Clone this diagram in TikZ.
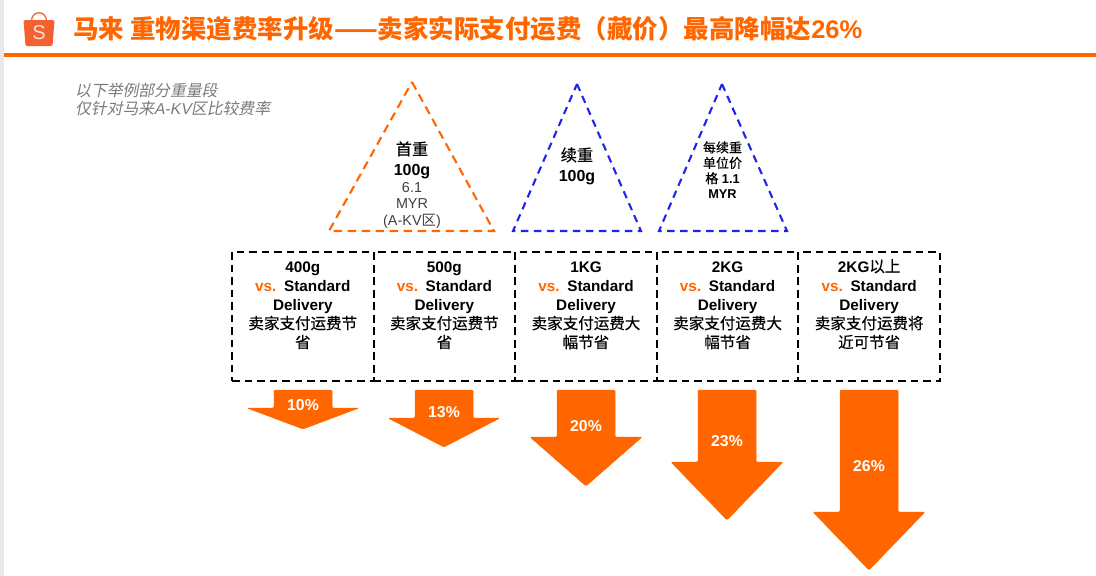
\documentclass[tikz,border=0pt]{standalone}
\usepackage{fontspec}
\setmainfont{Liberation Sans}
\newfontfamily\cjk{Noto Sans CJK SC}
\newfontfamily\cjkplain[FakeBold=0.35,Scale=1.015]{Noto Sans CJK SC}
\newfontfamily\cjkslant[FakeSlant=0.2]{Noto Sans CJK SC}
\newfontfamily\latinslant[FakeSlant=0.2]{Liberation Sans}
\usepackage{xcolor}
\usetikzlibrary{positioning}
\definecolor{shopee}{HTML}{FF6600}
\definecolor{bagred}{HTML}{F4602F}
\definecolor{dashblue}{HTML}{2222EE}
\definecolor{notegray}{HTML}{7A7A7A}
\newcommand{\cn}[1]{{\cjkplain\mdseries #1}}
\tikzset{
  title/.style={anchor=west,inner sep=0pt,text=shopee,font=\fontsize{25.5}{28}\selectfont\bfseries},
  note/.style={anchor=north west,inner sep=0pt,align=left,text=notegray,font=\fontsize{15.8}{18}\selectfont},
  dealbox/.style={draw=black,line width=2pt,dash pattern=on 7.5pt off 5pt,inner xsep=0pt,inner ysep=0pt,outer sep=0pt,
    minimum width=141.6pt,align=center,text width=135pt,text height=20pt,text depth=109pt,
    font=\fontsize{15.3}{19}\selectfont\bfseries},
  tri orange/.style={draw=shopee,line width=2.1pt,dash pattern=on 8.5pt off 5.5pt},
  tri blue/.style={draw=dashblue,line width=2.1pt,dash pattern=on 7.5pt off 5.5pt},
  tri text/.style={inner sep=0pt,align=center,font=\fontsize{16}{20}\selectfont\bfseries},
  small text/.style={inner sep=0pt,align=center,font=\fontsize{12.8}{15.4}\selectfont\bfseries},
  drop/.style={fill=shopee,draw=shopee,line width=0.5pt,rounded corners=1.2pt},
  percent/.style={inner sep=0pt,text=white,font=\fontsize{15.8}{16}\selectfont\bfseries}}

\begin{document}
\begin{tikzpicture}[x=1pt,y=-1pt]
  \useasboundingbox (0,0) rectangle (1096,576);
  \fill[gray!18] (0,0) rectangle (3.5,576);
  % header
  \fill[shopee] (4,52.5) rectangle (1096,57);
  \draw[bagred,line width=1.3pt] (31.5,21) .. controls (31.5,10) and (46.5,10) .. (46.5,21);
  \fill[bagred,rounded corners=1.5pt] (23.5,20) -- (54.5,20) -- (52.5,46) -- (25.5,46) -- cycle;
  \node[inner sep=0pt,text=white!80!bagred,font=\fontsize{20}{20}\selectfont] (logo) at (39,33) {S};
  \node[title] (heading) at (73,29) {{\cjk 马来 重物渠道费率升级——卖家实际支付运费（藏价）最高降幅达}26\%};
  \node[note] (scope note) at (75,82.5) {{\cjkslant 以下举例部分重量段}\\{\cjkslant 仅针对马来}{\latinslant A-KV}{\cjkslant 区比较费率}};

  % triangles
  \coordinate (t1) at (412,82);  \coordinate (t1l) at (329,231); \coordinate (t1r) at (494,231);
  \coordinate (t2) at (577,84);  \coordinate (t2l) at (513,231); \coordinate (t2r) at (641,231);
  \coordinate (t3) at (722,84);  \coordinate (t3l) at (659,231); \coordinate (t3r) at (787,231);
  \draw[tri orange] (t1) -- (t1r) -- (t1l) -- cycle;
  \draw[tri blue] (t2) -- (t2r) -- (t2l) -- cycle;
  \draw[tri blue] (t3) -- (t3r) -- (t3l) -- cycle;
  \node[tri text] (first) at (412,160) {\cn{首重}\\100g};
  \node[inner sep=0pt,align=center,text=black!75,font=\fontsize{14.4}{16.5}\selectfont] (first price) at (412,205) {6.1\\MYR\\(A-KV{\cjk 区})};
  \node[tri text] (next) at (577,166) {\cn{续重}\\100g};
  \node[small text] (unit) at (722.5,170) {\cn{每续重}\\\cn{单位价}\\\cn{格} 1.1\\MYR};

  % boxes
  \node[dealbox,anchor=north west] (b1) at (232,252) {400g\\{\color{shopee}vs.} Standard\\Delivery\\\cn{卖家支付运费节}\\\cn{省}};
  \node[dealbox,right=0pt of b1] (b2) {500g\\{\color{shopee}vs.} Standard\\Delivery\\\cn{卖家支付运费节}\\\cn{省}};
  \node[dealbox,right=0pt of b2] (b3) {1KG\\{\color{shopee}vs.} Standard\\Delivery\\\cn{卖家支付运费大}\\\cn{幅节省}};
  \node[dealbox,right=0pt of b3] (b4) {2KG\\{\color{shopee}vs.} Standard\\Delivery\\\cn{卖家支付运费大}\\\cn{幅节省}};
  \node[dealbox,right=0pt of b4] (b5) {2KG\cn{以上}\\{\color{shopee}vs.} Standard\\Delivery\\\cn{卖家支付运费将}\\\cn{近可节省}};

  % drops: centre / shaft end / tip / label y / text
  \foreach \cx/\sy/\ty/\ly/\pct in {303/408/429/405.5/10,444/418/447/412.5/13,586/437/486/426.5/20,727/462/520/441.5/23,869/512/570/466.5/26}{
    \draw[drop] (\cx-29,390) -- (\cx+29,390) -- (\cx+29,\sy) -- (\cx+56,\sy) -- (\cx,\ty) -- (\cx-56,\sy) -- (\cx-29,\sy) -- cycle;
    \node[percent] (p\pct) at (\cx,\ly) {\pct\%};
  }
\end{tikzpicture}
\end{document}
